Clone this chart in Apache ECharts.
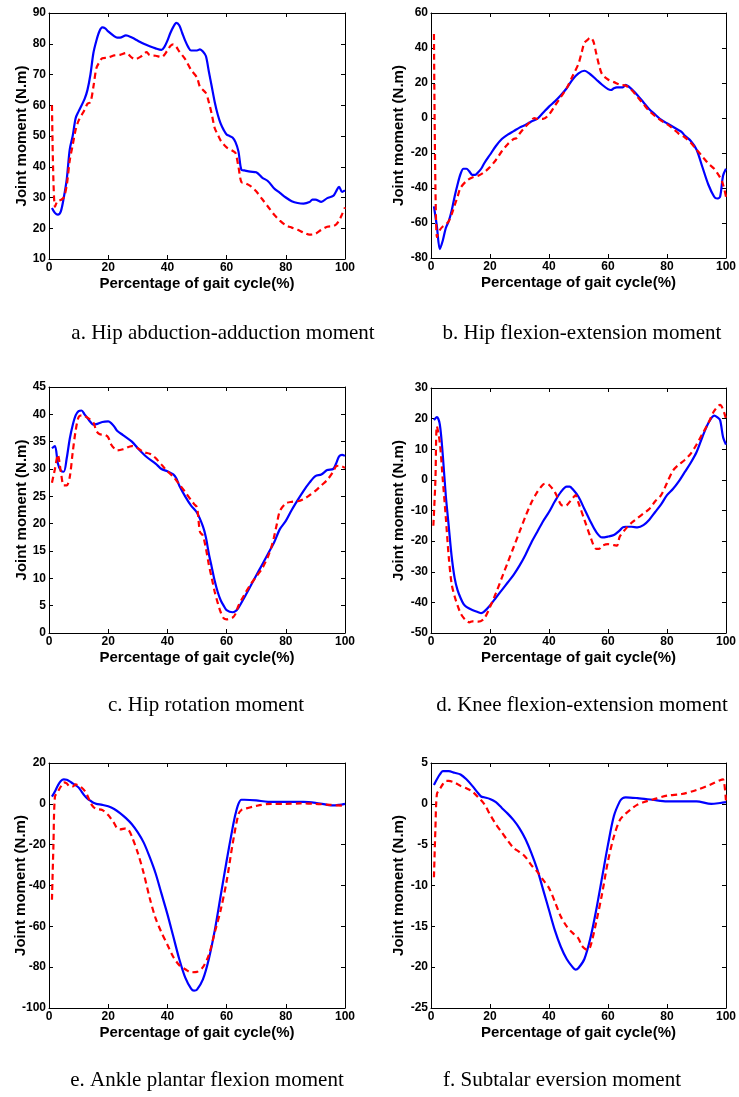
<!DOCTYPE html>
<html>
<head>
<meta charset="utf-8">
<style>
    html, body { margin: 0; padding: 0; background: #fff; }
    /* 整个图的容器 */
    #chart { width: 739px; height: 1097px; }
</style>
<script src="https://cdn.jsdelivr.net/npm/echarts@6/dist/echarts.min.js"></script>
</head>
<body>
<div id="chart"></div>
<script>
// 各子图数据：[步态周期百分比, 关节力矩]
var hipAbdSolid = [[1,26.6],[2,25],[3,24.4],[4,25.5],[5,30],[6,36],[7,45.6],[8,50],[9,55.8],[10,58],[12,62],[13,65],[14,70],[15,77],[16,81],[17,84],[18,85.3],[19,85],[20,84],[22,82.5],[23,82],[24,82],[26,82.7],[28,82],[30,81],[32,80],[34,79.2],[36,78.5],[38,78],[39,79],[40,81],[41,83.5],[42,85.5],[43,86.8],[44,86],[45,83.5],[46,81],[47,79],[48,77.8],[50,77.8],[51,78.2],[52,77.5],[53,76],[54,71],[55,66],[56,61],[57,57],[58,54],[59,52],[60,50.5],[61,50],[62,49.5],[63,48],[64,45],[65,39],[66,38.8],[68,38.4],[70,38.2],[72,36.5],[74,35.3],[76,33],[78,31.5],[80,30],[82,28.8],[84,28.2],[86,28],[88,28.5],[89,29.3],[90,29.3],[92,28.6],[94,29.8],[96,30.5],[97,32],[98,33.5],[99,31.8],[100,32.3]];
var hipAbdDashed = [[1,60],[2,27],[3,29],[4,29.2],[5,30],[6,34],[7,42],[8,47],[9,52],[10,55],[12,58.5],[13,60.5],[14,61],[15,66],[16,72],[17,74],[18,75.3],[20,75.5],[22,76.2],[24,76.4],[26,77],[28,75.5],[29,75],[31,75.8],[33,77.3],[34,76.3],[36,76.1],[38,75.7],[40,77.8],[41,79.3],[42,79.8],[43,79],[44,77.5],[46,75],[48,71.5],[50,69],[51,66],[53,64],[54,61],[55,57],[56,52.5],[57,50.5],[58,48.5],[60,46.3],[62,45.2],[63,44.5],[64,40],[65,35],[66,34.8],[68,33.8],[70,32],[72,29.5],[74,27],[76,24.5],[78,22.5],[80,21],[82,20.2],[84,19.5],[86,18.6],[88,17.9],[90,18.2],[92,19.5],[94,20.5],[96,20.7],[97,21.2],[98,22.5],[99,24.5],[100,26.8]];

var hipFlexSolid = [[1,-50.5],[2,-62],[3,-74.9],[4,-70],[5,-63],[6,-59],[7,-53],[8,-45],[9,-38],[10,-32],[11,-29],[12,-29],[13,-30.5],[14,-32.5],[15,-32.5],[16,-31],[17,-29],[18,-26],[20,-21],[22,-16],[24,-12],[26,-9.5],[28,-7.5],[30,-5.5],[32,-4],[34,-2],[36,-0.5],[38,3],[40,6.5],[42,9.5],[44,13],[46,17],[48,22],[50,25.5],[52,27],[54,25],[56,22],[58,19],[60,16.5],[61,16],[62,17],[63,17.5],[65,17.5],[66,19],[67,18],[68,16.5],[70,13],[72,9],[74,5],[76,2],[78,-1],[80,-3],[82,-5],[84,-7],[85,-8],[86,-10],[88,-13],[90,-18],[92,-28],[94,-38],[96,-45],[97,-46],[98,-45],[99,-33],[100,-29]];
var hipFlexDashed = [[1,48],[2,-68],[3,-64],[4,-62],[5,-61],[6,-59],[7,-55],[8,-50],[9,-45],[10,-40],[12,-36],[14,-34],[16,-33],[18,-31],[20,-28],[22,-24],[24,-19],[26,-15],[28,-12],[29,-11.5],[30,-9],[32,-5],[34,-1.5],[35,0],[36,-0.5],[38,-0.5],[40,2],[42,7],[44,12],[46,17],[48,24],[50,31],[51,37],[52,43],[53,44.5],[54,46],[55,44],[56,37],[57,30],[58,25],[60,22],[62,20.5],[64,19],[66,18.5],[68,16],[70,12],[72,8],[74,4],[76,1],[78,-1.5],[80,-3.5],[82,-6],[84,-9],[86,-11],[88,-14],[90,-18],[92,-22],[94,-26],[96,-29],[98,-34],[99,-38],[100,-45]];

var hipRotSolid = [[1,33.8],[2,34.2],[3,31],[4,29.7],[5,29.5],[6,32],[7,35.5],[8,38],[9,39.8],[10,40.6],[11,40.7],[12,40],[13,39.3],[14,38.6],[15,38.1],[16,38.2],[18,38.6],[20,38.7],[21,38.4],[22,37.8],[23,37],[25,36.2],[28,35],[30,33.8],[33,32.2],[36,31],[38,30],[40,29.6],[42,29],[43,28.3],[44,27],[46,25],[48,23.3],[50,22],[52,19.5],[53,17.5],[54,14.5],[55,12],[56,9.5],[57,7.5],[58,6],[59,5],[60,4.2],[62,3.8],[63,4],[64,4.6],[66,6.5],[68,8.5],[70,10.5],[72,12.5],[74,14.5],[76,16.5],[78,19],[80,20.5],[82,22.5],[84,24.3],[86,26],[88,27.5],[90,28.7],[92,29],[94,29.8],[96,30],[97,31],[98,32.3],[99,32.6],[100,32.4]];
var hipRotDashed = [[1,27.5],[2,30],[3,32.6],[4,29.5],[5,27],[6,27],[7,28.5],[8,33],[9,37],[10,39.5],[11,39.8],[12,39.7],[14,39],[15,38.5],[16,37],[17,36.4],[19,36.2],[20,35.8],[21,34.5],[22,33.8],[23,33.4],[25,33.6],[28,34.2],[30,33.8],[32,33.1],[34,32.8],[35,32.5],[36,32],[38,30.8],[40,29.6],[42,28.6],[44,27.2],[46,25.8],[48,24.3],[49,23.6],[50,23],[51,18.5],[52,17.8],[53,15.5],[54,12.5],[55,10],[56,7.5],[57,5.5],[58,3.8],[59,2.7],[60,2.5],[61,2.6],[62,2.8],[63,3.5],[64,5],[66,7],[68,8.8],[70,10.3],[72,11.8],[74,14],[75,15.5],[76,17.5],[77,20],[78,22.3],[80,23.7],[82,24],[84,24.1],[86,24.5],[88,25.2],[90,26],[92,27],[94,28],[96,29.5],[97,30.5],[98,30.6],[100,30.2]];

var kneeSolid = [[1,19.5],[2,20.5],[3,18],[4,8],[5,-5],[6,-15],[7,-25],[8,-32],[9,-36],[10,-38.5],[11,-40.5],[12,-41.5],[14,-42.5],[16,-43.2],[17,-43.5],[18,-43],[20,-41],[22,-38.5],[24,-36],[26,-33.5],[28,-31],[30,-28],[32,-24.5],[34,-20.5],[36,-17],[38,-13.5],[40,-10.5],[42,-7],[44,-4],[46,-2.2],[47,-2.2],[48,-3],[50,-5.5],[52,-9.5],[54,-13.5],[56,-17],[58,-18.8],[60,-18.5],[62,-18],[64,-16.5],[65,-15.5],[66,-15.3],[68,-15.3],[70,-15.5],[72,-14.8],[74,-13],[76,-10.5],[78,-8],[80,-5],[82,-3],[84,-0.5],[86,2.5],[88,5.5],[90,9],[92,14],[94,18.5],[96,21],[97,20.5],[98,19.5],[99,14],[100,11.5]];
var kneeDashed = [[0.8,-15],[1.5,0],[2,17.5],[3,12],[4,0],[5,-12],[6,-25],[7,-34],[8,-38],[9,-41],[10,-43.5],[11,-45],[12,-46],[13,-46.5],[14,-46.2],[16,-46.3],[18,-45.3],[20,-41.5],[22,-37],[24,-32],[26,-27],[28,-22],[30,-17],[32,-12],[34,-7.5],[36,-4],[38,-1.5],[39,-1.2],[40,-1.6],[42,-4],[44,-8],[45,-8.5],[46,-8.3],[48,-6],[49,-5],[50,-7.5],[52,-13],[54,-18.5],[56,-22.5],[57,-22.5],[58,-21.5],[60,-21],[62,-21.3],[63,-21.5],[64,-18.5],[66,-16],[68,-14],[70,-12.5],[72,-11],[74,-9.5],[76,-7],[78,-5],[80,-1],[82,3],[84,5],[86,6.5],[88,8.5],[90,11.5],[92,15],[94,18.5],[96,22.5],[98,24.5],[99,23],[100,20]];

var ankleSolid = [[1,3.5],[2,6],[3,9],[4,11.2],[5,12],[6,11.8],[7,11],[8,10],[10,8],[11,6],[12,4],[13,2.5],[14,1.5],[15,0.5],[16,0],[18,-0.5],[20,-1.2],[22,-2.5],[24,-4.5],[26,-7],[28,-10],[30,-14],[32,-19],[34,-26],[36,-34],[38,-44],[40,-54],[42,-65],[44,-76],[46,-85],[48,-90.5],[49,-91.5],[50,-91],[52,-86],[54,-76],[56,-62],[58,-45],[60,-28],[62,-12],[63,-5],[64,0],[65,2],[66,2],[70,1.7],[74,1],[80,1],[86,1],[90,0.5],[94,-0.5],[96,-0.8],[98,-0.5],[100,0]];
var ankleDashed = [[1,-47],[1.5,-20],[2,3.5],[3,6],[4,8.5],[5,10.5],[6,10],[7,8.5],[8,8.5],[9,9.5],[10,9],[11,8],[12,6.5],[13,4],[14,0.5],[15,-1.5],[16,-2.5],[18,-3],[20,-5.5],[22,-9.5],[23,-12],[24,-12.5],[26,-12],[27,-13],[28,-16],[30,-24],[32,-34],[34,-46],[36,-56],[38,-63],[40,-69],[42,-75],[44,-79],[46,-81],[48,-82.5],[50,-82.3],[52,-80],[54,-74],[56,-63],[58,-52],[60,-38],[62,-20],[64,-5],[65,-3],[66,-2.5],[70,-1],[75,0],[80,0],[85,0.2],[90,0],[95,-0.5],[100,-1]];

var subtalarSolid = [[1,2.3],[2,3],[3,3.6],[4,4],[6,4],[8,3.8],[10,3.6],[12,3],[14,2.2],[16,1.3],[17,0.9],[18,0.8],[20,0.6],[22,0.2],[24,-0.5],[26,-1.2],[28,-2],[30,-3],[32,-4.3],[34,-6],[36,-8],[38,-10.5],[40,-13],[42,-15.5],[44,-17.5],[46,-19],[48,-20],[49,-20.3],[50,-20.1],[52,-19],[54,-16.5],[56,-13],[58,-9],[60,-5],[62,-1.5],[64,0.3],[65,0.7],[66,0.8],[70,0.7],[75,0.5],[80,0.3],[85,0.3],[90,0.3],[95,0],[98,0.1],[100,0.2]];
var subtalarDashed = [[1,-9],[1.5,-3],[2,1.2],[3,1.8],[4,2.4],[5,2.8],[6,2.8],[8,2.6],[10,2.2],[12,1.9],[14,1.5],[16,0.8],[18,0],[20,-1.3],[22,-2.5],[24,-3.5],[26,-4.5],[28,-5.4],[30,-5.9],[32,-6.5],[34,-7.5],[36,-8.3],[38,-9.3],[40,-10.3],[42,-12],[44,-13.8],[46,-15],[48,-15.8],[50,-16.5],[51,-17.3],[52,-17.7],[53,-17.9],[54,-17.5],[56,-14.5],[58,-11],[60,-7],[62,-4],[64,-2],[66,-1.2],[68,-0.6],[70,-0.1],[72,0.2],[75,0.5],[80,1],[85,1.2],[90,1.7],[95,2.4],[98,2.9],[99,3],[100,0.3]];

// 纵轴范围 [min, max, interval]
var yRanges = [[10, 90, 10], [-80, 60, 20], [0, 45, 5], [-50, 30, 10], [-100, 20, 20], [-25, 5, 5]];
var xRange = [0, 100, 20];

var captions = ['a. Hip abduction-adduction moment', 'b. Hip flexion-extension moment',
    'c. Hip rotation moment', 'd. Knee flexion-extension moment',
    'e. Ankle plantar flexion moment', 'f. Subtalar eversion moment'];
var solidSets = [hipAbdSolid, hipFlexSolid, hipRotSolid, kneeSolid, ankleSolid, subtalarSolid];
var dashedSets = [hipAbdDashed, hipFlexDashed, hipRotDashed, kneeDashed, ankleDashed, subtalarDashed];

var xTitle = 'Percentage of gait cycle(%)';
var yTitle = 'Joint moment (N.m)';

// 每个子图的位置
var panels = [
    { left: 49, top: 13, height: 246, capX: 223, capY: 333, gap: 20 },
    { left: 431, top: 13, height: 245, capX: 582, capY: 333, gap: 25 },
    { left: 49, top: 387, height: 246, capX: 206, capY: 705, gap: 20 },
    { left: 431, top: 388, height: 245, capX: 582, capY: 705, gap: 25 },
    { left: 49, top: 763, height: 245, capX: 207, capY: 1080, gap: 21 },
    { left: 431, top: 763, height: 245, capX: 562, capY: 1080, gap: 25 }
];

var labelFont = { color: '#000', fontFamily: 'Liberation Sans, Arial', fontWeight: 'bold', fontSize: 12 };
var titleFont = { color: '#000', fontFamily: 'Liberation Sans, Arial', fontWeight: 'bold', fontSize: 15 };
var tickStyle = { show: true, inside: true, length: 4, lineStyle: { color: '#000', width: 1 } };
var lineBox = { show: true, onZero: false, lineStyle: { color: '#000', width: 1 } };

var grids = [], xAxes = [], yAxes = [], series = [], graphics = [];
panels.forEach(function (p, i) {
    grids.push({ left: p.left, top: p.top, width: 296, height: p.height, containLabel: false });
    var yr = yRanges[i];
    // 下方横轴（带刻度值）
    xAxes.push({
        type: 'value', gridIndex: i, position: 'bottom', min: xRange[0], max: xRange[1], interval: xRange[2],
        axisLine: lineBox, axisTick: tickStyle, splitLine: { show: false },
        axisLabel: Object.assign({ margin: 3 }, labelFont),
        name: xTitle, nameLocation: 'middle', nameGap: 17, nameMoveOverlap: false,
        nameTextStyle: titleFont
    });
    // 上方横轴，只画刻度
    xAxes.push({
        type: 'value', gridIndex: i, position: 'top', min: xRange[0], max: xRange[1], interval: xRange[2],
        axisLine: lineBox, axisTick: tickStyle, splitLine: { show: false }, axisLabel: { show: false }
    });
    yAxes.push({
        type: 'value', gridIndex: i, position: 'left', min: yr[0], max: yr[1], interval: yr[2],
        axisLine: lineBox, axisTick: tickStyle, splitLine: { show: false },
        axisLabel: Object.assign({ margin: 3 }, labelFont),
        name: yTitle, nameLocation: 'middle', nameGap: p.gap, nameMoveOverlap: false,
        nameTextStyle: titleFont
    });
    yAxes.push({
        type: 'value', gridIndex: i, position: 'right', min: yr[0], max: yr[1], interval: yr[2],
        axisLine: lineBox, axisTick: tickStyle, splitLine: { show: false }, axisLabel: { show: false }
    });
    series.push({
        type: 'line', xAxisIndex: i * 2, yAxisIndex: i * 2, data: solidSets[i],
        smooth: 0.3, showSymbol: false, symbol: 'none', clip: true,
        lineStyle: { color: '#0000ff', width: 2.2 }
    });
    series.push({
        type: 'line', xAxisIndex: i * 2, yAxisIndex: i * 2, data: dashedSets[i],
        smooth: 0.3, showSymbol: false, symbol: 'none', clip: true,
        lineStyle: { color: '#ff0000', width: 2.2, type: [6, 4] }
    });
    // 子图说明文字
    graphics.push({
        type: 'text', position: [p.capX, p.capY],
        style: {
            text: captions[i], x: 0, y: 0, textAlign: 'center', textVerticalAlign: 'middle',
            font: '21px "Liberation Serif", "Times New Roman", serif', fill: '#000'
        }
    });
});

var myChart = echarts.init(document.getElementById('chart'), null, { renderer: 'canvas' });
var option = {
    animation: false,
    backgroundColor: '#fff',
    grid: grids,
    xAxis: xAxes,
    yAxis: yAxes,
    series: series,
    graphic: graphics
};
myChart.setOption(option);
</script>
</body>
</html>
